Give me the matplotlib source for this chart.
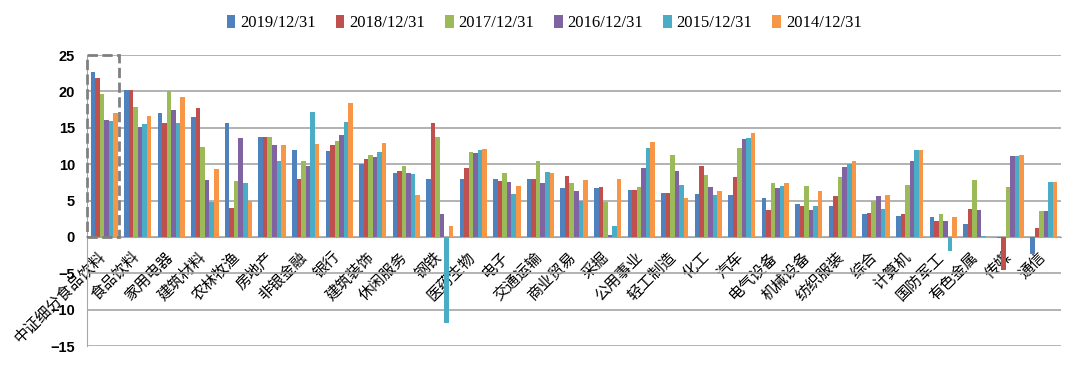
import numpy as np
import matplotlib
matplotlib.use("Agg")
import matplotlib.pyplot as plt
from matplotlib.patches import Rectangle
from matplotlib.transforms import ScaledTranslation

categories = ["中证细分食品饮料", "食品饮料", "家用电器", "建筑材料", "农林牧渔", "房地产", "非银金融",
              "银行", "建筑装饰", "休闲服务", "钢铁", "医药生物", "电子", "交通运输", "商业贸易",
              "采掘", "公用事业", "轻工制造", "化工", "汽车", "电气设备", "机械设备", "纺织服装",
              "综合", "计算机", "国防军工", "有色金属", "传媒", "通信"]

series_names = ["2019/12/31", "2018/12/31", "2017/12/31", "2016/12/31", "2015/12/31", "2014/12/31"]

v2019 = [22.7, 20.2, 17.1, 16.5, 15.6, 13.8, 12.0, 11.8, 10.0, 8.8, 8.0, 7.9, 7.9, 7.9, 6.7,
         6.7, 6.5, 6.1, 5.9, 5.8, 5.3, 4.5, 4.3, 3.2, 2.9, 2.7, 1.8, -0.2, -2.4]
v2018 = [21.9, 20.2, 15.6, 17.7, 4.0, 13.7, 8.0, 12.6, 10.7, 9.1, 15.6, 9.5, 7.7, 8.0, 8.4,
         6.9, 6.4, 6.0, 9.8, 8.2, 3.7, 4.2, 5.6, 3.3, 3.1, 2.2, 3.8, -4.5, 1.2]
v2017 = [19.7, 17.8, 20.0, 12.3, 7.7, 13.8, 10.5, 13.2, 11.3, 9.8, 13.7, 11.7, 8.8, 10.5, 7.4,
         4.8, 6.9, 11.2, 8.5, 12.2, 7.4, 7.0, 8.2, 5.0, 7.1, 3.2, 7.8, 6.8, 3.6]
v2016 = [16.1, 15.1, 17.4, 7.8, 13.6, 12.6, 9.7, 14.0, 11.0, 8.8, 3.2, 11.6, 7.5, 7.4, 6.3,
         0.3, 9.5, 9.1, 6.9, 13.5, 6.7, 3.7, 9.6, 5.6, 10.5, 2.2, 3.7, 11.1, 3.6]
v2015 = [16.0, 15.5, 15.6, 4.8, 7.4, 10.5, 17.2, 15.8, 11.7, 8.7, -11.8, 11.9, 5.9, 8.9, 5.0,
         1.55, 12.2, 7.2, 5.8, 13.6, 7.0, 4.3, 10.0, 3.9, 12.0, -2.0, 0.1, 11.1, 7.6]
v2014 = [17.1, 16.6, 19.3, 9.3, 5.0, 12.6, 12.8, 18.4, 12.9, 5.7, 1.55, 12.1, 7.0, 8.8, 7.8,
         8.0, 13.0, 5.4, 6.3, 14.3, 7.4, 6.3, 10.5, 5.7, 11.9, 2.7, -0.1, 11.3, 7.6]

colors = ["#4F81BD", "#C0504D", "#9BBB59", "#8064A2", "#4BACC6", "#F79646"]

data = [v2019, v2018, v2017, v2016, v2015, v2014]

fig = plt.figure(figsize=(10.8, 3.65), dpi=100)
ax = fig.add_axes([0.081, 0.052, 0.901, 0.797])

x = np.arange(len(categories))
w = 0.135
for i, vals in enumerate(data):
    ax.bar(x + (i - 2.5) * w, vals, w, color=colors[i], label=series_names[i], zorder=3)

ax.set_xlim(-0.5, len(categories) - 0.5)
ax.set_ylim(-15, 25)
ax.set_yticks(range(-15, 30, 5))
ax.yaxis.grid(True, color="#A6A6A6", lw=1.2, zorder=0)

for s in ["top", "right"]:
    ax.spines[s].set_visible(False)
ax.spines["left"].set_color("#A6A6A6")
ax.spines["bottom"].set_position(("data", 0))
ax.spines["bottom"].set_color("#A6A6A6")

ax.tick_params(axis="y", length=0, pad=9)
ax.tick_params(axis="x", length=0, pad=2)
for lab in ax.get_yticklabels():
    lab.set_fontfamily("Liberation Sans")
    lab.set_fontweight("bold")
    lab.set_fontsize(10.5)

ax.set_xticks(x)
ax.set_xticklabels(categories, rotation=45, ha="right", va="top", rotation_mode="anchor",
                   fontfamily=["Noto Sans CJK SC", "DejaVu Sans"], fontsize=11)
shift = ScaledTranslation(-7 / 100, -9 / 100, fig.dpi_scale_trans)
for lab in ax.get_xticklabels():
    lab.set_transform(lab.get_transform() + shift)

# dashed box around the first group
ax.add_patch(Rectangle((-0.5, 0), 0.95, 25, fill=False, ls="--", lw=2, ec="#808080", zorder=4,
                       clip_on=False))

leg = fig.legend(loc="center", bbox_to_anchor=(0.504, 0.937), ncol=6, frameon=False,
                 prop={"family": "Liberation Serif", "size": 12}, handlelength=0.5,
                 handleheight=0.9, handletextpad=0.3, columnspacing=1.2)

fig.savefig("out.png", dpi=100)
